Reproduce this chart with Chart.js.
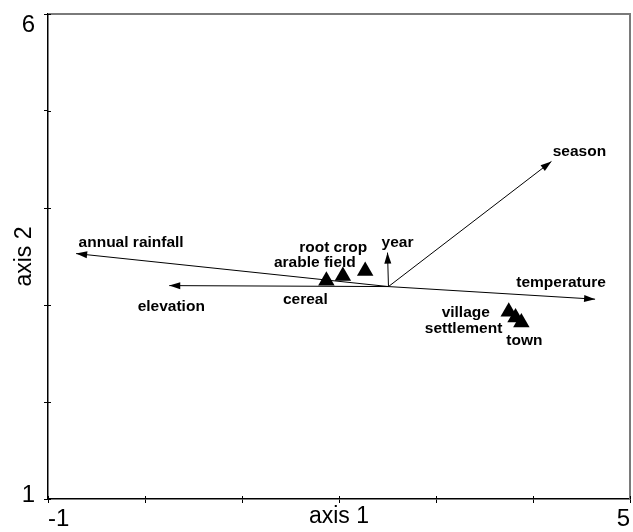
<!DOCTYPE html>
<html>
<head>
<meta charset="utf-8">
<script src="https://cdn.jsdelivr.net/npm/chart.js@4/dist/chart.umd.min.js"></script>
<style>
  html, body { margin: 0; padding: 0; background: #fff; }
</style>
</head>
<body>
<canvas id="biplot" width="633" height="532"></canvas>
<script>
// triangles (samples / land use classes)
const speciesNames = ['cereal', 'arable field', 'root crop', 'village', 'settlement', 'town'];
const speciesX = [1.87, 2.04, 2.27, 3.75, 3.82, 3.88];
const speciesY = [3.25, 3.30, 3.35, 2.93, 2.87, 2.82];

// environmental variable arrows, all start from the same origin
const varNames = ['annual rainfall', 'elevation', 'year', 'season', 'temperature'];
const varX = [-0.71, 0.25, 2.50, 4.19, 4.64];
const varY = [3.53, 3.20, 3.54, 4.48, 3.06];
const originX = 2.51;
const originY = 3.19;

const xTickLabels = ['-1', '', '', '', '', '', '5'];
const yTickLabels = ['1', '', '', '', '', '6'];

// label placement in pixels, relative to the mark
const speciesLabelOffset = [[-21, 19], [-28, -13], [-32, -23], [-43, 1], [-52, 11], [3, 18]];
const varLabelOffset = [[55, -11], [2, 21], [10, -10], [28, -10], [-34, -16]];

const axisFont = '"Liberation Sans", Arial, sans-serif';

const arrowSets = varNames.map((name, i) => ({
  label: name,
  data: [{x: originX, y: originY}, {x: varX[i], y: varY[i]}],
  showLine: true,
  borderColor: '#000',
  borderWidth: 1,
  pointRadius: 0,
  order: 1
}));

const speciesSet = {
  label: 'samples',
  data: speciesNames.map((n, i) => ({x: speciesX[i], y: speciesY[i]})),
  pointStyle: 'triangle',
  pointRadius: 9.5,
  backgroundColor: '#000',
  borderColor: '#000',
  borderWidth: 0,
  order: 0
};

const biplotExtras = {
  id: 'biplotExtras',
  afterDatasetsDraw(chart) {
    const ctx = chart.ctx;
    ctx.save();
    ctx.fillStyle = '#000';

    // arrow heads
    arrowSets.forEach((ds, i) => {
      const pts = chart.getDatasetMeta(i + 1).data;
      const p0 = pts[0], p1 = pts[1];
      const a = Math.atan2(p1.y - p0.y, p1.x - p0.x);
      const len = 11, half = 3.5;
      const bx = p1.x - Math.cos(a) * len, by = p1.y - Math.sin(a) * len;
      ctx.beginPath();
      ctx.moveTo(p1.x, p1.y);
      ctx.lineTo(bx - Math.sin(a) * half, by + Math.cos(a) * half);
      ctx.lineTo(bx + Math.sin(a) * half, by - Math.cos(a) * half);
      ctx.closePath();
      ctx.fill();
    });

    // labels
    ctx.font = 'bold 15.5px ' + axisFont;
    ctx.textAlign = 'center';
    ctx.textBaseline = 'middle';
    arrowSets.forEach((ds, i) => {
      const p1 = chart.getDatasetMeta(i + 1).data[1];
      ctx.fillText(varNames[i], p1.x + varLabelOffset[i][0], p1.y + varLabelOffset[i][1]);
    });
    const sp = chart.getDatasetMeta(0).data;
    speciesNames.forEach((n, i) => {
      ctx.fillText(n, sp[i].x + speciesLabelOffset[i][0], sp[i].y + speciesLabelOffset[i][1]);
    });
    ctx.restore();
  },
  afterDraw(chart) {
    const ctx = chart.ctx;
    const a = chart.chartArea;
    ctx.save();
    // top and right frame
    ctx.strokeStyle = '#7a7a7a';
    ctx.lineWidth = 2;
    ctx.beginPath();
    ctx.moveTo(a.left, a.top);
    ctx.lineTo(a.right, a.top);
    ctx.lineTo(a.right, a.bottom);
    ctx.stroke();
    // small inward halves of the tick marks
    ctx.strokeStyle = '#000';
    ctx.lineWidth = 1;
    const xs = chart.scales.x, ys = chart.scales.y;
    ctx.beginPath();
    xs.ticks.forEach((t, i) => {
      const px = Math.round(xs.getPixelForTick(i)) + 0.5;
      ctx.moveTo(px, a.bottom);
      ctx.lineTo(px, a.bottom - 3);
    });
    ys.ticks.forEach((t, i) => {
      const py = Math.round(ys.getPixelForTick(i)) + 0.5;
      ctx.moveTo(a.left, py);
      ctx.lineTo(a.left + 3, py);
    });
    ctx.stroke();
    ctx.restore();
  }
};

new Chart(document.getElementById('biplot'), {
  type: 'scatter',
  data: { datasets: [speciesSet].concat(arrowSets) },
  options: {
    responsive: false,
    animation: false,
    layout: { autoPadding: false, padding: { top: 14, right: 3, left: 0, bottom: 0 } },
    plugins: { legend: { display: false }, tooltip: { enabled: false } },
    scales: {
      x: {
        type: 'linear', min: -1, max: 5,
        ticks: {
          stepSize: 1, autoSkip: false, maxRotation: 0, align: 'inner', padding: 2,
          color: '#000', font: { family: axisFont, size: 24 },
          callback: (v, i) => xTickLabels[i]
        },
        grid: { drawOnChartArea: false, tickLength: 4, color: '#000' },
        border: { color: '#000', width: 1.5 },
        title: { display: true, text: 'axis 1', color: '#000',
                 font: { family: axisFont, size: 23 }, padding: { top: 0, bottom: 1.2 } },
        afterFit(s) { s.height = 33; s.paddingLeft = 0; s.paddingRight = 0; }
      },
      y: {
        type: 'linear', min: 1, max: 6,
        ticks: {
          stepSize: 1, autoSkip: false, padding: 9, labelOffset: 4,
          color: '#000', font: { family: axisFont, size: 24, lineHeight: 0.6 },
          callback: (v, i, all) => {
            if (i === 0) return [yTickLabels[i], ''];
            if (i === all.length - 1) return ['', yTickLabels[i]];
            return yTickLabels[i];
          }
        },
        grid: { drawOnChartArea: false, tickLength: 4, color: '#000' },
        border: { color: '#000', width: 1.5 },
        title: { display: true, text: 'axis 2', color: '#000',
                 font: { family: axisFont, size: 23 }, padding: { top: 11, bottom: 0 } },
        afterFit(s) { s.width = 48; s.paddingTop = 0; s.paddingBottom = 0; }
      }
    }
  },
  plugins: [biplotExtras]
});
</script>
</body>
</html>
